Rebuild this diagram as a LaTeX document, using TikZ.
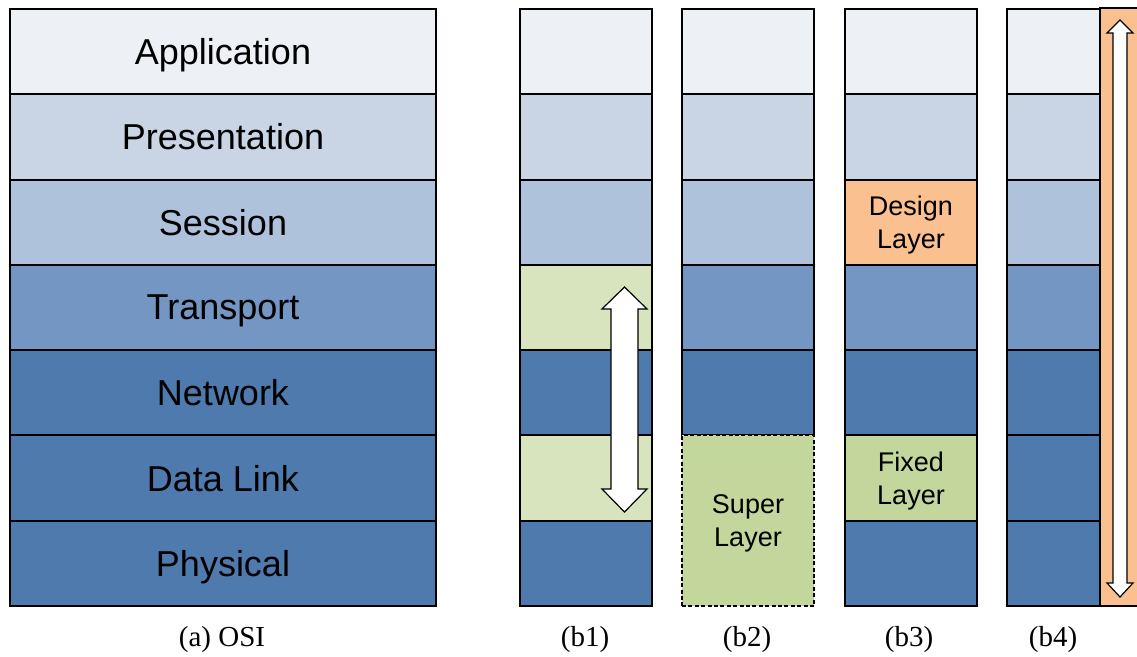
\documentclass[tikz,border=0pt]{standalone}
\usepackage{fontspec}
\setmainfont{Liberation Serif}
\newfontfamily\layerfont{Liberation Sans}
\usepackage{xcolor}
\usetikzlibrary{positioning}

% layer colours
\definecolor{appcol}{HTML}{EDF0F5}
\definecolor{prescol}{HTML}{C9D5E5}
\definecolor{sesscol}{HTML}{AFC2DB}
\definecolor{transcol}{HTML}{7396C2}
\definecolor{lowcol}{HTML}{4F7AAD}
\definecolor{palegreen}{HTML}{D7E4BD}
\definecolor{supergreen}{HTML}{C3D69B}
\definecolor{designcol}{HTML}{FAC090}

\tikzset{
  layer/.style={draw=black, line width=1pt, inner sep=0pt, anchor=north west,
    minimum height=42.64pt, align=center, text depth=0pt,
    font=\layerfont\fontsize{18}{21}\selectfont},
  osi/.style={layer, minimum width=213pt},
  bcell/.style={layer, minimum width=66pt, font=\layerfont\fontsize{13.5}{16.5}\selectfont},
  bnarrow/.style={bcell, minimum width=47pt},
  caption/.style={font=\fontsize{14.5}{16}\selectfont},
  bigarrow/.style={draw=black, fill=white, line width=0.6pt, line join=miter}
}

\begin{document}
\begin{tikzpicture}[x=0.5pt, y=-0.5pt]
    \useasboundingbox (0,0) rectangle (1137,657);

    % (a) OSI stack
    \node[osi, fill=appcol]   (osiApp)   at (9, 8)      {Application};
    \node[osi, fill=prescol]  (osiPres)  at (9, 93.28)  {Presentation};
    \node[osi, fill=sesscol]  (osiSess)  at (9, 178.57) {Session};
    \node[osi, fill=transcol] (osiTrans) at (9, 263.85) {Transport};
    \node[osi, fill=lowcol]   (osiNet)   at (9, 349.14) {Network};
    \node[osi, fill=lowcol]   (osiLink)  at (9, 434.42) {Data Link};
    \node[osi, fill=lowcol]   (osiPhy)   at (9, 519.71) {Physical};
    \node[caption] (capA) at (222, 640) {(a) OSI};

    % (b1)
    \node[bcell, fill=appcol]    (bOneApp)   at (519, 8)      {};
    \node[bcell, fill=prescol]   (bOnePres)  at (519, 93.28)  {};
    \node[bcell, fill=sesscol]   (bOneSess)  at (519, 178.57) {};
    \node[bcell, fill=palegreen] (bOneTrans) at (519, 263.85) {};
    \node[bcell, fill=lowcol]    (bOneNet)   at (519, 349.14) {};
    \node[bcell, fill=palegreen] (bOneLink)  at (519, 434.42) {};
    \node[bcell, fill=lowcol]    (bOnePhy)   at (519, 519.71) {};
    \node[caption] (capBOne) at (585, 640) {(b1)};

    % cross-layer double arrow in (b1)
    \draw[bigarrow] (624.5, 287) -- (647, 309) -- (638, 309)
        -- (638, 489) -- (647, 489) -- (624.5, 512) -- (602, 489) -- (611, 489)
        -- (611, 309) -- (602, 309) -- cycle;

    % (b2)
    \node[bcell, fill=appcol]    (bTwoApp)   at (681, 8)      {};
    \node[bcell, fill=prescol]   (bTwoPres)  at (681, 93.28)  {};
    \node[bcell, fill=sesscol]   (bTwoSess)  at (681, 178.57) {};
    \node[bcell, fill=transcol]  (bTwoTrans) at (681, 263.85) {};
    \node[bcell, fill=lowcol]    (bTwoNet)   at (681, 349.14) {};
    \node[bcell, fill=supergreen, dash pattern=on 2pt off 1.2pt,
          minimum height=85.28pt] (bTwoSuper) at (681, 434.42) {Super\\Layer};
    \node[caption] (capBTwo) at (747, 640) {(b2)};

    % (b3)
    \node[bcell, fill=appcol]     (bThreeApp)    at (844, 8)      {};
    \node[bcell, fill=prescol]    (bThreePres)   at (844, 93.28)  {};
    \node[bcell, fill=designcol]  (bThreeDesign) at (844, 178.57) {Design\\Layer};
    \node[bcell, fill=transcol]   (bThreeTrans)  at (844, 263.85) {};
    \node[bcell, fill=lowcol]     (bThreeNet)    at (844, 349.14) {};
    \node[bcell, fill=supergreen] (bThreeFixed)  at (844, 434.42) {Fixed\\Layer};
    \node[bcell, fill=lowcol]     (bThreePhy)    at (844, 519.71) {};
    \node[caption] (capBThree) at (909, 640) {(b3)};

    % (b4)
    \node[bnarrow, fill=appcol]   (bFourApp)   at (1006, 8)      {};
    \node[bnarrow, fill=prescol]  (bFourPres)  at (1006, 93.28)  {};
    \node[bnarrow, fill=sesscol]  (bFourSess)  at (1006, 178.57) {};
    \node[bnarrow, fill=transcol] (bFourTrans) at (1006, 263.85) {};
    \node[bnarrow, fill=lowcol]   (bFourNet)   at (1006, 349.14) {};
    \node[bnarrow, fill=lowcol]   (bFourLink)  at (1006, 434.42) {};
    \node[bnarrow, fill=lowcol]   (bFourPhy)   at (1006, 519.71) {};
    \node[caption] (capBFour) at (1053, 640) {(b4)};

    % whole-stack bar on the right of (b4)
    \node[fill=designcol, inner sep=0pt, anchor=north west,
          minimum width=18.5pt, minimum height=298.5pt] (bFourBar) at (1100, 8) {};
    \draw[line width=1pt] (bFourBar.north east) -- (bFourBar.north west)
        -- (bFourBar.south west) -- (bFourBar.south east);
    \draw[bigarrow] (1120, 20) -- (1133, 33) -- (1127, 33) -- (1127, 583)
        -- (1133, 583) -- (1120, 597) -- (1107, 583) -- (1113, 583)
        -- (1113, 33) -- (1107, 33) -- cycle;
\end{tikzpicture}
\end{document}
